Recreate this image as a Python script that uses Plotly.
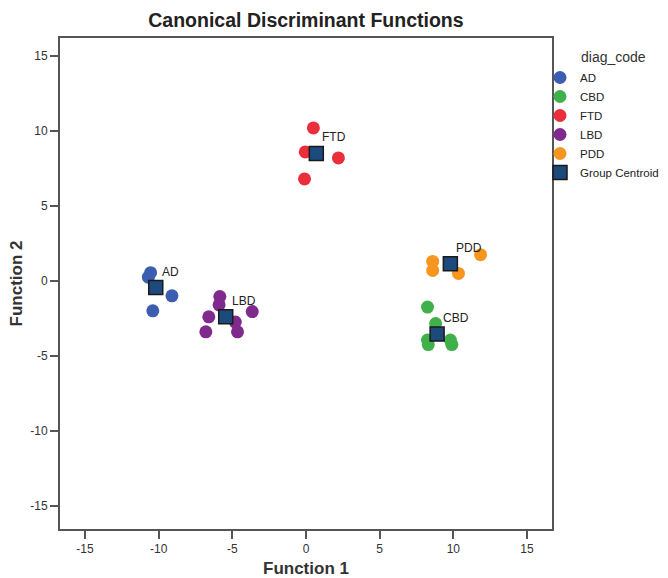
import plotly.graph_objects as go

groups = ["AD", "CBD", "FTD", "LBD", "PDD"]
colors = {"AD": "#3d5eb0", "CBD": "#3fb04a", "FTD": "#ea2f3a", "LBD": "#812a8d", "PDD": "#f7961f"}

ad_x = [-10.55, -10.7, -9.1, -10.4]
ad_y = [0.55, 0.25, -1.0, -2.0]
cbd_x = [8.25, 8.8, 8.25, 8.3, 9.8, 9.9]
cbd_y = [-1.75, -2.85, -3.95, -4.25, -3.95, -4.25]
ftd_x = [0.5, -0.05, 2.2, -0.1]
ftd_y = [10.2, 8.6, 8.2, 6.8]
lbd_x = [-5.85, -5.9, -6.6, -3.65, -4.8, -4.65, -6.8]
lbd_y = [-1.05, -1.6, -2.4, -2.05, -2.75, -3.4, -3.4]
pdd_x = [8.6, 8.6, 11.85, 10.35]
pdd_y = [1.3, 0.7, 1.75, 0.5]

centroid_x = [-10.2, 8.9, 0.7, -5.45, 9.8]
centroid_y = [-0.45, -3.55, 8.5, -2.4, 1.15]

data = {
    "AD": (ad_x, ad_y),
    "CBD": (cbd_x, cbd_y),
    "FTD": (ftd_x, ftd_y),
    "LBD": (lbd_x, lbd_y),
    "PDD": (pdd_x, pdd_y),
}

ticks = [-15, -10, -5, 0, 5, 10, 15]
legend_title = "diag_code"
FONT = "Liberation Sans, Arial"

fig = go.Figure()
for g in groups:
    xs, ys = data[g]
    fig.add_trace(go.Scatter(
        x=xs, y=ys, mode="markers", name=g,
        marker=dict(size=13, color=colors[g], line=dict(width=0)),
    ))

fig.add_trace(go.Scatter(
    x=centroid_x, y=centroid_y, mode="markers", name="Group Centroid",
    marker=dict(symbol="square", size=14, color="#1c4a7d",
                line=dict(width=1.5, color="#1a1a1a")),
))

for g, cx, cy in zip(groups, centroid_x, centroid_y):
    fig.add_annotation(x=cx, y=cy, text=g, showarrow=False,
                       xanchor="left", yanchor="bottom", xshift=4, yshift=7,
                       font=dict(family=FONT, size=12, color="#222"))

# legend title as text placed above the legend
fig.add_annotation(xref="paper", yref="paper", x=1.126, y=0.9613, text=legend_title,
                   showarrow=False, xanchor="center", yanchor="middle",
                   font=dict(family=FONT, size=14, color="#333"))

axis_common = dict(
    showline=True, linecolor="#555", linewidth=2, mirror=True,
    showgrid=False, zeroline=False, automargin=False,
    ticks="outside", ticklen=8, tickwidth=1.5, tickcolor="#555",
    tickvals=ticks, ticktext=[str(t) for t in ticks],
    tickfont=dict(family=FONT, size=12, color="#333"),
)

fig.update_layout(
    width=668, height=578,
    margin=dict(l=60, r=116, t=38, b=49, autoexpand=False),
    plot_bgcolor="white", paper_bgcolor="white",
    title=dict(text="<b>Canonical Discriminant Functions</b>", x=0.458, xanchor="center",
               y=0.9654, yanchor="middle",
               font=dict(family=FONT, size=19.5, color="#222")),
    xaxis=dict(range=[-16.7, 16.7], title=dict(text="<b>Function 1</b>", standoff=9,
               font=dict(family=FONT, size=17, color="#333")), **axis_common),
    yaxis=dict(range=[-16.55, 16.2], title=dict(text="<b>Function 2</b>", standoff=3,
               font=dict(family=FONT, size=17, color="#333")), **axis_common),
    legend=dict(xref="container", yref="container", x=540 / 668, xanchor="left",
                y=0.891, yanchor="top",
                font=dict(family=FONT, size=11.5, color="#222"),
                bgcolor="rgba(0,0,0,0)",
                itemwidth=30, tracegroupgap=0),
    showlegend=True,
)

fig.write_html("out.html", config={"displayModeBar": False},
               post_script="document.body.style.margin='0px';")
